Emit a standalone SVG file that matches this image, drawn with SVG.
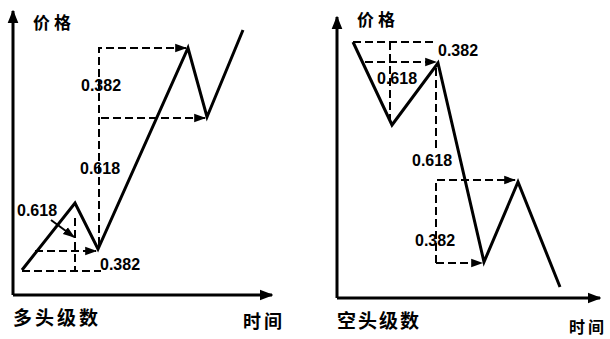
<svg xmlns="http://www.w3.org/2000/svg" width="610" height="339" viewBox="0 0 610 339">
<defs>
<marker id="ah" viewBox="0 0 10 10" refX="9" refY="5" markerWidth="6" markerHeight="6" orient="auto" markerUnits="strokeWidth">
<path d="M0,1.5 L10,5 L0,8.5 z" fill="#000"/>
</marker>
<marker id="axh" viewBox="0 0 10 10" refX="9" refY="5" markerWidth="4.5" markerHeight="4.5" orient="auto" markerUnits="strokeWidth">
<path d="M0,1 L10,5 L0,9 z" fill="#000"/>
</marker>
</defs>
<style>
.axis{stroke:#000;stroke-width:3;fill:none}
.main{stroke:#000;stroke-width:3;fill:none;stroke-linejoin:miter}
.dash{stroke:#000;stroke-width:2;fill:none;stroke-dasharray:8,4}
.solid{stroke:#000;stroke-width:2;fill:none}
.num{font-family:"Liberation Sans",Arial,sans-serif;font-weight:bold;font-size:16px;fill:#000}
.cjk{font-family:"Noto Sans CJK SC","Noto Sans",sans-serif;font-weight:bold;fill:#000}
</style>
<rect width="610" height="339" fill="#fff"/>

<g id="left-panel">
<g id="left-axes">
<line class="axis" x1="13" y1="295" x2="13" y2="11" marker-end="url(#axh)"/>
<line class="axis" x1="13" y1="295" x2="272" y2="295" marker-end="url(#axh)"/>
</g>
<g id="left-labels">
<text class="cjk" x="33" y="29" font-size="17" letter-spacing="4">价格</text>
<text class="cjk" x="13" y="325" font-size="19" letter-spacing="3">多头级数</text>
<text class="cjk" x="243" y="328" font-size="18" letter-spacing="3">时间</text>
<text class="num" x="81" y="91">0.382</text>
<text class="num" x="80" y="174">0.618</text>
<text class="num" x="17" y="216">0.618</text>
<text class="num" x="100" y="270">0.382</text>
</g>
<g id="left-connectors">
<polyline class="dash" points="99,245 99,48 186,48" marker-end="url(#ah)"/>
<line class="dash" x1="101" y1="118" x2="205" y2="118" marker-end="url(#ah)"/>
<line class="dash" x1="35" y1="251" x2="96" y2="251" marker-end="url(#ah)"/>
<line class="dash" x1="22" y1="271" x2="101" y2="271"/>
<line class="dash" x1="75" y1="218" x2="75" y2="271"/>
<line class="solid" x1="51" y1="220" x2="74" y2="237" marker-end="url(#ah)"/>
</g>
<g id="left-price">
<polyline class="main" points="22,270 75,203 98,249 188,48 207,117 243,30"/>
</g>
</g>

<g id="right-panel">
<g id="right-axes">
<line class="axis" x1="337" y1="298" x2="337" y2="17" marker-end="url(#axh)"/>
<line class="axis" x1="337" y1="298" x2="600" y2="298" marker-end="url(#axh)"/>
</g>
<g id="right-labels">
<text class="cjk" x="357" y="26" font-size="17" letter-spacing="4">价格</text>
<text class="cjk" x="337" y="328" font-size="19" letter-spacing="2">空头级数</text>
<text class="cjk" x="569" y="333" font-size="16" letter-spacing="3">时间</text>
<text class="num" x="438" y="56">0.382</text>
<text class="num" x="377" y="84">0.618</text>
<text class="num" x="412" y="166">0.618</text>
<text class="num" x="415" y="246">0.382</text>
</g>
<g id="right-connectors">
<line class="dash" x1="353" y1="42" x2="436" y2="42"/>
<line class="dash" x1="390" y1="42" x2="390" y2="120"/>
<line class="dash" x1="365" y1="62" x2="436" y2="62" marker-end="url(#ah)"/>
<line class="dash" x1="436" y1="68" x2="436" y2="150"/>
<polyline class="dash" points="436,263 436,180 515,180" marker-end="url(#ah)"/>
<line class="dash" x1="436" y1="263" x2="482" y2="263" marker-end="url(#ah)"/>
</g>
<g id="right-price">
<polyline class="main" points="353,42 392,125 438,63 484,262 518,182 560,287"/>
</g>
</g>
</svg>
